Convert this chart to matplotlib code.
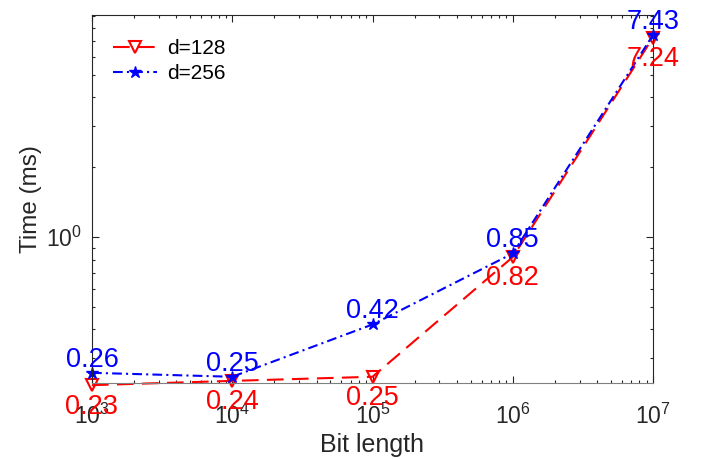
import matplotlib
matplotlib.use("Agg")
import matplotlib.pyplot as plt
from matplotlib.ticker import LogLocator, NullFormatter

plt.rcParams['font.family'] = ['Liberation Sans', 'DejaVu Sans']
plt.rcParams['mathtext.fontset'] = 'custom'
plt.rcParams['mathtext.rm'] = 'Liberation Sans'
plt.rcParams['mathtext.it'] = 'Liberation Sans:italic'
plt.rcParams['lines.scale_dashes'] = False

bit_length = [1e3, 1e4, 1e5, 1e6, 1e7]
time_d128 = [0.23, 0.24, 0.25, 0.82, 7.24]
time_d256 = [0.26, 0.25, 0.42, 0.85, 7.43]
labels_d128 = ["0.23", "0.24", "0.25", "0.82", "7.24"]
labels_d256 = ["0.26", "0.25", "0.42", "0.85", "7.43"]

fig = plt.figure(figsize=(7.05, 4.59), dpi=100)
ax = fig.add_axes([92/705, 1-383/459, (653-92)/705, (383-15)/459])

axc = '#262626'
l1, = ax.plot(bit_length, time_d128, color='red', lw=1.5, marker='v', ms=8,
              mfc='none', mec='red', mew=1.5, label='d=128', clip_on=False)
l1.set_dashes((12, 6))
l2, = ax.plot(bit_length, time_d256, color='blue', lw=1.5, marker='*', ms=9,
              mfc='blue', mec='blue', mew=1.0, label='d=256', clip_on=False)
l2.set_dashes((7, 3, 1.5, 3))

ax.set_xscale('log')
ax.set_yscale('log')
ax.set_xlim(1e3, 1e7)
ax.set_ylim(0.235, 9.06)

for x, y, s in zip(bit_length, time_d256, labels_d256):
    ax.annotate(s, (x, y), xytext=(0, 4.5), textcoords='offset points',
                ha='center', va='baseline', color='blue', fontsize=19.5,
                annotation_clip=False)
for x, y, s in zip(bit_length, time_d128, labels_d128):
    ax.annotate(s, (x, y), xytext=(0, -6), textcoords='offset points',
                ha='center', va='top', color='red', fontsize=19.5,
                annotation_clip=False)

ax.yaxis.set_major_locator(LogLocator(base=10, numticks=10))
ax.yaxis.set_minor_locator(LogLocator(base=10, subs=range(2, 10), numticks=20))
ax.yaxis.set_minor_formatter(NullFormatter())
ax.xaxis.set_minor_formatter(NullFormatter())

ax.tick_params(which='both', direction='in', top=True, right=True, colors=axc)
ax.tick_params(which='major', length=5, width=0.8, labelsize=16.5)
ax.tick_params(which='minor', length=2.5, width=0.8)
ax.tick_params(axis='x', which='major', pad=15)
ax.tick_params(axis='y', which='major', pad=7)
for sp in ax.spines.values():
    sp.set_color(axc)
    sp.set_linewidth(0.8)
ax.spines['bottom'].set_color('#808080')

ax.set_xlabel('Bit length', fontsize=18, color=axc, labelpad=3)
ax.set_ylabel('Time (ms)', fontsize=17.5, color=axc, labelpad=3)

ax.legend(loc='upper left', bbox_to_anchor=(0.037, 0.935), frameon=False,
          fontsize=15, handlelength=2.1, handletextpad=0.5, labelspacing=0.3,
          borderaxespad=0, borderpad=0)

fig.savefig('out.png', dpi=100)
